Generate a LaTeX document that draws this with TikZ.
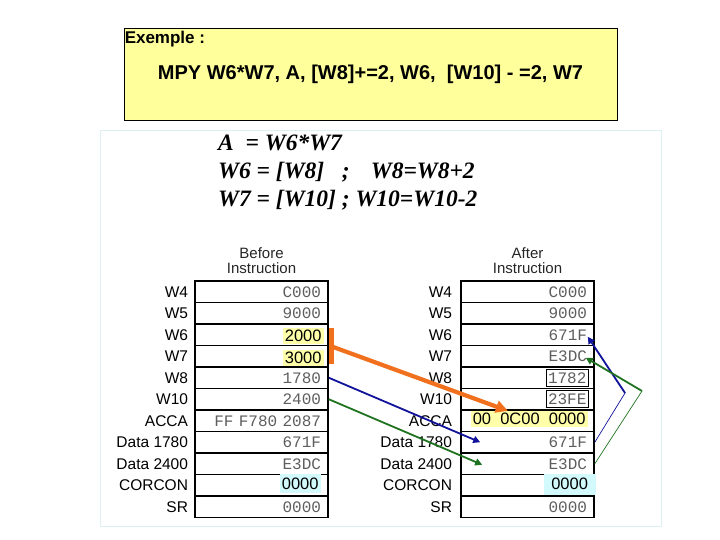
\documentclass[tikz,border=0pt]{standalone}
\usepackage{fontspec}
\setmainfont{Liberation Sans}
\newfontfamily\monofam{Liberation Mono}
\newfontfamily\seriffam{Liberation Serif}
\usetikzlibrary{arrows.meta,positioning}
\definecolor{notepaper}{HTML}{FFFF9C}
\definecolor{panelrule}{HTML}{DDEFF1}
\definecolor{hiyellow}{HTML}{FFFFAA}
\definecolor{hicyan}{HTML}{D2FAFC}
\definecolor{valgray}{HTML}{5E5E5E}
\definecolor{movorange}{HTML}{F0701E}
\definecolor{fetchblue}{HTML}{10129A}
\definecolor{fetchgreen}{HTML}{1F7320}
\tikzset{
  exbox/.style={draw=black,line width=.9pt,fill=notepaper,
    minimum width=493pt,minimum height=92pt},
  extitle/.style={font=\fontsize{17}{20}\selectfont\bfseries,inner sep=0pt,anchor=west},
  excode/.style={font=\fontsize{20}{24}\selectfont\bfseries,inner sep=0pt},
  formula/.style={font=\seriffam\fontsize{23.5}{28}\selectfont\bfseries\itshape,
    inner sep=0pt,anchor=base west},
  heading/.style={font=\fontsize{15}{15.5}\selectfont,align=center,inner sep=0pt,
    text=black!85},
  reglabel/.style={font=\fontsize{15.5}{18}\selectfont,inner sep=0pt},
  regcell/.style={draw=black,line width=1.6pt,minimum width=133pt,
    minimum height=21.5pt,inner xsep=7pt,inner ysep=0pt,text width=119pt,
    align=right,font=\monofam\fontsize{16}{18}\selectfont,text=valgray},
  hl/.style={inner xsep=2pt,inner ysep=0pt,minimum height=16pt,
    font=\fontsize{16.5}{18}\selectfont},
  hlyellow/.style={hl,fill=hiyellow},
  hlcyan/.style={hl,fill=hicyan},
  boxedval/.style={draw=black,line width=.8pt,inner xsep=2pt,inner ysep=0pt,
    minimum height=17pt,font=\monofam\fontsize{16}{18}\selectfont,text=valgray},
  orangebar/.style={fill=movorange,minimum width=5pt,minimum height=36pt,inner sep=0pt},
  movearrow/.style={-{Triangle[length=12pt,width=12pt]},draw=movorange,line width=4.2pt},
  fetch/.style={-{Triangle[length=7pt,width=7pt]},line width=1.8pt},
  backlink/.style={line width=.7pt},
}

\begin{document}
\begin{tikzpicture}[x=1pt,y=-1pt]
\useasboundingbox (0,0) rectangle (720,540);

\node[exbox] (exbox) at (370.5,74) {};
\node[extitle] (extitle) at ([xshift=1pt,yshift=-12pt]exbox.north west) {Exemple :};
\node[excode] (excode) at (exbox.center)
  {MPY W6*W7, A, [W8]+=2, W6,\ \ [W10] - =2, W7};

\draw[draw=panelrule,line width=1pt] (100,131) rectangle (661,526);

\node[formula] (eqacc) at (218,151) {A\ \ = W6*W7};
\node[formula] (eqwsix) at (218,179) {W6 = [W8]\hspace{.75em};\hspace{.9em}W8=W8+2};
\node[formula] (eqwseven) at (218,207) {W7 = [W10] ; W10=W10-2};

% register tables, before and after
\foreach \reg/\bval/\aval [count=\i] in {W4/C000/C000,W5/9000/9000,W6//671F,
    W7//E3DC,W8/1780/,W10/2400/,ACCA/FF F780 2087/,Data 1780/671F/671F,
    Data 2400/E3DC/E3DC,CORCON//,SR/0000/0000}{
  \node[regcell] (bcell\i) at (261.5,{270.25+21.5*\i}) {\bval};
  \node[reglabel,left=6pt of bcell\i] (blab\i) {\reg};
  \node[regcell] (acell\i) at (527.5,{270.25+21.5*\i}) {\aval};
  \node[reglabel,left=8pt of acell\i] (alab\i) {\reg};
}
\node[heading,above=6pt of bcell1] (bhead) {Before\\Instruction};
\node[heading,above=6pt of acell1] (ahead) {After\\Instruction};

\node[hlyellow,anchor=east] (bwsix) at ([xshift=-5pt,yshift=-.75pt]bcell3.east) {2000};
\node[hlyellow,anchor=east] (bwseven) at ([xshift=-5pt,yshift=-1.25pt]bcell4.east) {3000};
\node[hlcyan,anchor=east,minimum height=19pt] (bcorcon)
  at ([xshift=-8pt,yshift=1.75pt]bcell10.east) {0000};
\node[boxedval,anchor=east] (awei) at ([xshift=-6pt]acell5.east) {1782};
\node[boxedval,anchor=east] (aten) at ([xshift=-6pt]acell6.east) {23FE};
\node[hlyellow,anchor=east] (aacca) at ([xshift=-7pt,yshift=1.75pt]acell7.east)
  {00\ \ 0C00\ \ 0000};
\node[hlcyan,anchor=east,minimum width=52pt,minimum height=21pt] (acorcon)
  at ([xshift=1pt,yshift=1pt]acell10.east) {0000};

\node[orangebar] (obar) at ([xshift=2.5pt]bcell3.south east) {};
\draw[movearrow] (obar.center) -- ([xshift=-80pt]aacca.north east);
\draw[fetch,draw=fetchblue,fill=fetchblue] (bcell5.east) -- ([xshift=20pt]acell8.west);
\draw[fetch,draw=fetchgreen,fill=fetchgreen] (bcell6.east) -- ([xshift=22pt,yshift=-1pt]acell9.west);

\coordinate (bluebend) at (625,393);
\coordinate (greenbend) at (642,391);
\draw[backlink,draw=fetchblue] (acell8.east) -- (bluebend);
\draw[fetch,draw=fetchblue,fill=fetchblue] (bluebend) -- ([xshift=-7pt,yshift=-2pt]acell3.east);
\draw[backlink,draw=fetchgreen] (acell9.east) -- (greenbend);
\draw[fetch,draw=fetchgreen,fill=fetchgreen] (greenbend) -- ([xshift=-9pt,yshift=-1.5pt]acell4.east);
\end{tikzpicture}
\end{document}
